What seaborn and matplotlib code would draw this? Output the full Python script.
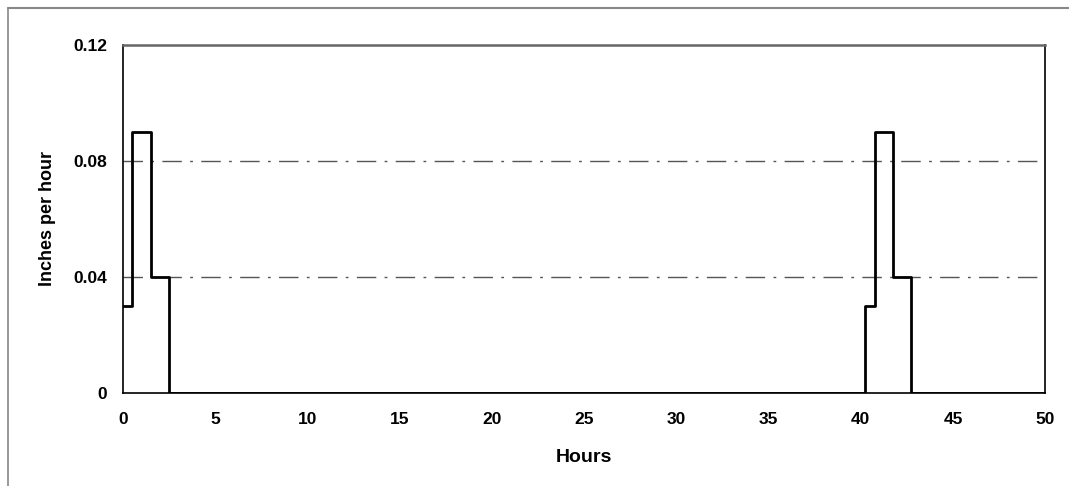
import matplotlib
matplotlib.use("Agg")
import matplotlib.pyplot as plt
from matplotlib.lines import Line2D
import seaborn as sns
import pandas as pd

# Data
hours = [0, 0.5, 1.5, 2.5, 40.25, 40.75, 41.75, 42.75, 50]
rate = [0.03, 0.09, 0.04, 0.0, 0.03, 0.09, 0.04, 0.0, 0.0]
ref_levels = [0.04, 0.08]
x_ticks = [0, 5, 10, 15, 20, 25, 30, 35, 40, 45, 50]
y_ticks = [0, 0.04, 0.08, 0.12]
y_tick_labels = ["0", "0.04", "0.08", "0.12"]

sns.set_style("white")
plt.rcParams['font.family'] = ['Liberation Sans', 'DejaVu Sans']

fig = plt.figure(figsize=(10.69, 4.86), dpi=100)
ax = fig.add_axes([0.115, 0.1914, 0.8627, 0.716])

df = pd.DataFrame({"Hours": hours, "Rate": rate})
sns.lineplot(data=df, x="Hours", y="Rate", ax=ax, drawstyle="steps-post",
             color="black", linewidth=2.0, estimator=None, sort=False)

for lv in ref_levels:
    ax.axhline(lv, color="#555555", linewidth=1.0, dashes=(14, 6, 2, 6), zorder=1)

ax.set_xlim(0, 50)
ax.set_ylim(0, 0.12)
ax.set_xticks(x_ticks)
ax.set_xticklabels([str(t) for t in x_ticks])
ax.set_yticks(y_ticks)
ax.set_yticklabels(y_tick_labels)
ax.tick_params(axis="both", direction="inout", length=7, width=1, colors="black",
               labelsize=12.5)
for lab in ax.get_xticklabels() + ax.get_yticklabels():
    lab.set_fontweight("bold")
    lab.set_color("black")
ax.tick_params(axis="x", pad=10)
ax.tick_params(axis="y", pad=8)

ax.set_xlabel("Hours", fontsize=14, fontweight="bold", labelpad=16, color="black")
ax.set_ylabel("Inches per hour", fontsize=13, fontweight="bold", labelpad=12, color="black")

for side in ["left", "bottom", "right"]:
    ax.spines[side].set_color("black")
    ax.spines[side].set_linewidth(1.2)
ax.spines["top"].set_color("#666666")
ax.spines["top"].set_linewidth(1.8)

# outer frame lines (top and left)
fig.add_artist(Line2D([8 / 1069, 1.0], [1 - 8 / 486, 1 - 8 / 486],
                      transform=fig.transFigure, color="#888888", linewidth=1.5))
fig.add_artist(Line2D([8 / 1069, 8 / 1069], [0, 1 - 8 / 486],
                      transform=fig.transFigure, color="#888888", linewidth=1.2))

fig.savefig("out.png", dpi=100, facecolor="white")
